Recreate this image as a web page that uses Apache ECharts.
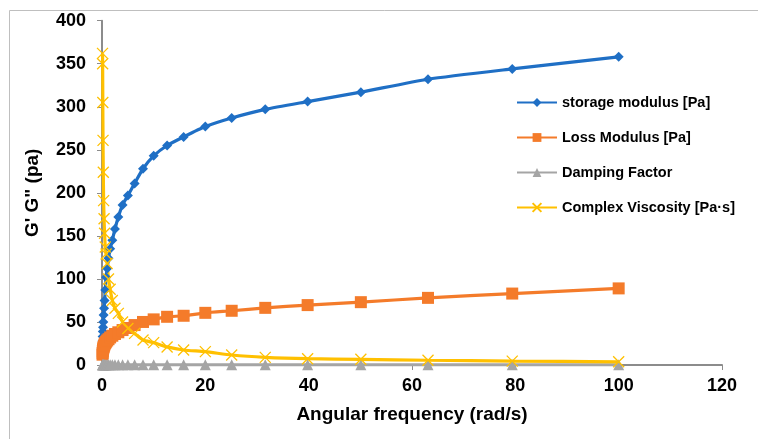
<!DOCTYPE html>
<html><head><meta charset="utf-8">
<script src="https://cdn.jsdelivr.net/npm/echarts@6/dist/echarts.min.js"></script>
<style>html,body{margin:0;padding:0;background:#fff}#c{width:758px;height:439px}</style>
</head><body><div id="c"></div>
<script>
const freq = [0.1,0.126,0.158,0.2,0.251,0.316,0.398,0.501,0.631,0.794,1,1.26,1.58,2,2.51,3.16,3.98,5.01,6.31,7.94,10,12.6,15.8,20,25.1,31.6,39.8,50.1,63.1,79.4,100];
const storageModulus = [28,33,39,44,50,58,66,75,87,102,112,124,135,145,158,172,186,197,211,228,243,255,265,277,287,297,306,317,332,344,358];
const lossModulus = [12,14,16,18,19.5,21,22.5,24,25.5,27,28.5,30,32,34,36,38,40.6,43,46.4,50,53,56,57.2,60.6,63,66.4,69.6,73,78,83,89];
const dampingFactor = [0.43,0.42,0.41,0.4,0.39,0.36,0.34,0.32,0.29,0.26,0.25,0.24,0.24,0.23,0.23,0.22,0.22,0.22,0.22,0.22,0.22,0.22,0.22,0.22,0.22,0.22,0.23,0.23,0.23,0.24,0.25];
const complexViscosity = [362,350,305,261,224,191,170,153,137,129,118,100,88,75,66,60,50,42.5,36.7,29,26,21,17.4,15.5,11.6,8.9,7.3,6.6,5.5,4.5,3.7];
const xTicks = [0,20,40,60,80,100,120];
const yTicks = [0,50,100,150,200,250,300,350,400];

const names = ['storage modulus [Pa]','Loss Modulus [Pa]','Damping Factor','Complex Viscosity [Pa·s]'];
const colors = ['#1F6FC5','#F47B2A','#A5A5A5','#FFC000'];
const pairs = arr => freq.map((f,i)=>[f,arr[i]]);
const font = 'Arial, "Liberation Sans", sans-serif';
const mk = (name, arr, color, symbol, size, extra) => Object.assign({
  name, type:'line', data: pairs(arr), smooth: 0.2,
  symbol, symbolSize:size, showSymbol:true,
  lineStyle:{color, width:3.2},
  itemStyle:{color},
  emphasis:{disabled:true}
}, extra||{});

const chart = echarts.init(document.getElementById('c'), null, {renderer:'canvas'});
chart.setOption({
  animation:false,
  backgroundColor:'#fff',
  graphic:[{type:'rect', shape:{x:9.5,y:10.5,width:800,height:500}, style:{fill:'none', stroke:'#BFBFBF', lineWidth:1}, silent:true, z:-1}],
  grid:{left:102, right:36, top:20.7, bottom:74},
  xAxis:{type:'value', min:0, max:120, interval:20,
    name:'Angular frequency (rad/s)', nameLocation:'middle', nameGap:40,
    nameTextStyle:{fontFamily:font, fontWeight:'bold', fontSize:19, color:'#000'},
    axisLine:{lineStyle:{color:'#8C8C8C', width:2}},
    axisTick:{show:true, length:5, lineStyle:{color:'#8C8C8C', width:1}},
    axisLabel:{fontFamily:font, fontWeight:'bold', fontSize:18, color:'#000', margin:12, formatter:v=>xTicks.includes(v)?String(v):''},
    splitLine:{show:false}},
  yAxis:{type:'value', min:0, max:400, interval:50,
    name:'G\' G" (pa)', nameLocation:'middle', nameGap:60,
    nameTextStyle:{fontFamily:font, fontWeight:'bold', fontSize:19, color:'#000'},
    axisLine:{show:true, lineStyle:{color:'#8C8C8C', width:2}},
    axisTick:{show:true, length:5, lineStyle:{color:'#8C8C8C', width:1}},
    axisLabel:{fontFamily:font, fontWeight:'bold', fontSize:18, color:'#000', margin:16, formatter:v=>yTicks.includes(v)?String(v):''},
    splitLine:{show:false}},
  legend:{orient:'vertical', left:511, top:90, itemWidth:40, itemHeight:11, itemGap:20, padding:5,
    textStyle:{fontFamily:font, fontWeight:'bold', fontSize:14.5, color:'#000'},
    data:names},
  series:[
    mk(names[0], storageModulus, colors[0], 'diamond', 10),
    mk(names[1], lossModulus, colors[1], 'rect', 12),
    mk(names[2], dampingFactor, colors[2], 'triangle', 11),
    mk(names[3], complexViscosity, colors[3], 'path://M0,0L10,10M10,0L0,10', 11,
       {itemStyle:{color:colors[3], borderColor:colors[3], borderWidth:1.3}})
  ]
});
</script></body></html>
